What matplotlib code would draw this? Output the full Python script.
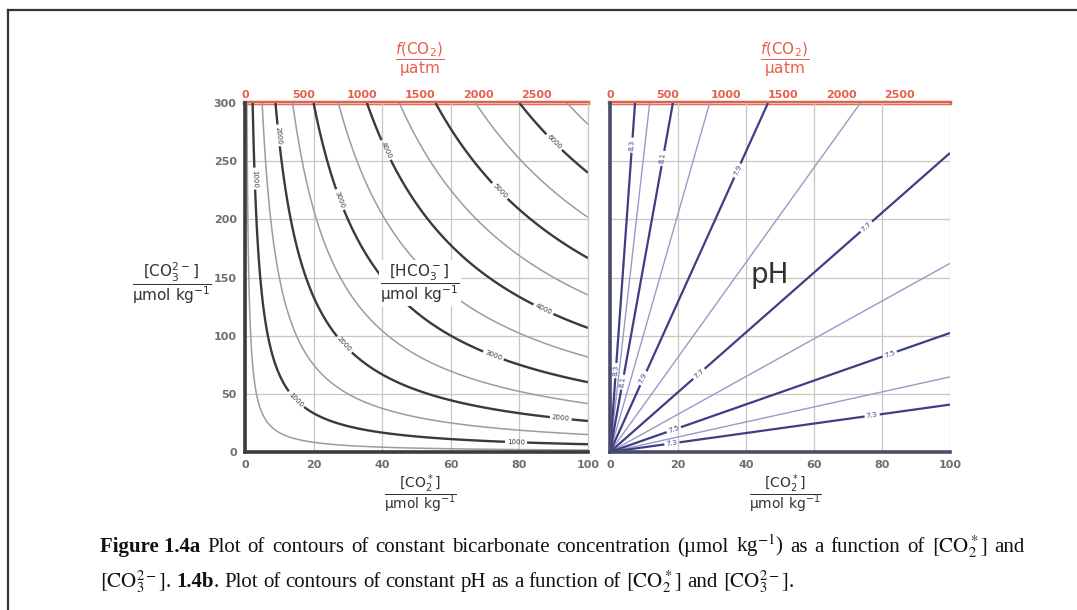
import numpy as np
import matplotlib.pyplot as plt
from matplotlib.lines import Line2D

# axis data
co2_ticks = [0, 20, 40, 60, 80, 100]
co3_ticks = [0, 50, 100, 150, 200, 250, 300]
fco2_ticks = [0, 500, 1000, 1500, 2000, 2500]
K0 = 0.034          # umol/kg per uatm

# left panel: [HCO3-] contours, [HCO3-]^2 = K_ratio * [CO2*] * [CO3--]
K_ratio = 1500.0
hco3_dark = [1000, 2000, 3000, 4000, 5000, 6000]
hco3_light = [500, 1500, 2500, 3500, 4500, 5500, 6500]
hco3_label_pos = [(2.9, 235), (15.2, 46), (79, 7.7),
                  (9.3, 272), (27.7, 89), (92, 27.5),
                  (28.6, 218), (72.3, 82),
                  (41.4, 260), (86.9, 122),
                  (73.8, 223), (90, 266)]

# right panel: pH lines, pH = 0.5*(log10([CO3--]/[CO2*]) + pK1 + pK2)
pK_sum = 14.99
ph_dark = [7.3, 7.5, 7.7, 7.9, 8.1, 8.3]
ph_light = [7.4, 7.6, 7.8, 8.0, 8.2]
ph_label_pos = [(5.3, 264), (1.7, 70),
                (14.4, 253), (3.8, 60),
                (38.2, 241), (10.9, 62),
                (75.9, 192), (26.5, 66),
                (82.4, 83), (18.8, 19),
                (77, 33.5), (18.2, 7.5)]

W, H = 1077, 610
fig = plt.figure(figsize=(W / 100, H / 100), dpi=100)
plt.rcParams['mathtext.fontset'] = 'dejavusans'

RED = '#e5604a'
GRID = '#cfc4bf'
TICK = '#6e6e6e'


def px_axes(x0, x1, y_top, y_bot):
    return fig.add_axes([x0 / W, 1 - y_bot / H, (x1 - x0) / W, (y_bot - y_top) / H])


def style(ax, spine_col, show_y):
    ax.set_xlim(0, 100)
    ax.set_ylim(0, 300)
    ax.set_xticks(co2_ticks)
    ax.set_yticks(co3_ticks)
    ax.grid(True, color=GRID, lw=0.9)
    ax.set_axisbelow(True)
    ax.tick_params(length=0, labelsize=8, labelcolor=TICK, pad=6)
    for lab in ax.get_xticklabels() + ax.get_yticklabels():
        lab.set_fontweight('bold')
    if not show_y:
        ax.set_yticklabels([])
    ax.spines['top'].set_visible(False)
    ax.spines['left'].set_color(spine_col)
    ax.spines['left'].set_linewidth(2.6)
    ax.spines['bottom'].set_color(spine_col)
    ax.spines['bottom'].set_linewidth(2.6)
    ax.spines['right'].set_color(GRID)
    ax.spines['right'].set_linewidth(0.9)
    top = ax.secondary_xaxis('top', functions=(lambda c: c / K0, lambda f: f * K0))
    top.set_xticks(fco2_ticks)
    top.tick_params(length=0, labelsize=8, labelcolor=RED, pad=2)
    for lab in top.get_xticklabels():
        lab.set_fontweight('bold')
    top.spines['top'].set_color(RED)
    top.spines['top'].set_linewidth(3.2)


x = np.linspace(0.01, 100, 700)
y = np.linspace(0.01, 300, 700)
X, Y = np.meshgrid(x, y)

# ---- left panel
axL = px_axes(245, 588, 103, 452)
style(axL, '#3c3c3c', True)
hco3 = np.sqrt(K_ratio * X * Y)
axL.contour(X, Y, hco3, levels=hco3_light, colors='#9c9c9c', linewidths=1.1)
csL = axL.contour(X, Y, hco3, levels=hco3_dark, colors='#3a3a3a', linewidths=1.7)
axL.clabel(csL, fmt='%d', fontsize=5, manual=hco3_label_pos, inline_spacing=2)
axL.text(51, 145, r'$\dfrac{[\mathrm{HCO_3^-}]}{\mathrm{µmol\ kg^{-1}}}$', fontsize=11,
         color='#333333', ha='center', va='center',
         bbox=dict(facecolor='white', edgecolor='none', pad=1))

# ---- right panel
axR = px_axes(610, 950, 103, 452)
style(axR, '#4a4a6a', False)
axR.spines['right'].set_visible(False)
ph = 0.5 * (np.log10(Y / X) + pK_sum)
axR.contour(X, Y, ph, levels=ph_light, colors='#9a9ac6', linewidths=1.0)
csR = axR.contour(X, Y, ph, levels=ph_dark, colors='#3e3e86', linewidths=1.6)
axR.clabel(csR, fmt='%.1f', fontsize=5, manual=ph_label_pos, inline_spacing=2)
axR.text(47, 152, 'pH', fontsize=20, color='#333333', ha='center', va='center')

# ---- axis titles (fractions)
frac_co2 = r'$\dfrac{[\mathrm{CO_2^*}]}{\mathrm{µmol\ kg^{-1}}}$'
frac_f = r'$\dfrac{f(\mathrm{CO_2})}{\mathrm{µatm}}$'
for cx in (420, 785):
    fig.text(cx / W, 1 - 494 / H, frac_co2, fontsize=10, color='#333333', ha='center', va='center')
    fig.text(cx / W, 1 - 60 / H, frac_f, fontsize=11, color=RED, ha='center', va='center')
fig.text(172 / W, 1 - 283 / H, r'$\dfrac{[\mathrm{CO_3^{2-}}]}{\mathrm{µmol\ kg^{-1}}}$',
         fontsize=11, color='#333333', ha='center', va='center')

# ---- page frame (left and top edges)
fig.add_artist(Line2D([8 / W, 8 / W], [0, 1 - 10 / H], transform=fig.transFigure, color='#333333', lw=1.6))
fig.add_artist(Line2D([8 / W, 1], [1 - 10 / H, 1 - 10 / H], transform=fig.transFigure, color='#333333', lw=1.6))

# ---- caption
CO2S = r'$[\mathrm{CO}_2^*]$'
CO3 = r'$[\mathrm{CO}_3^{2-}]$'
line1 = [('Figure 1.4a', True, True), ('Plot', False, True), ('of', False, True), ('contours', False, True),
         ('of', False, True), ('constant', False, True), ('bicarbonate', False, True),
         ('concentration', False, True), ('(µmol', False, True), (r'kg$^{-1}$)', False, True),
         ('as', False, True), ('a', False, True), ('function', False, True), ('of', False, True),
         (CO2S, False, True), ('and', False, False)]
line2 = [(CO3, False, False), ('.', False, True), ('1.4b', True, False), ('.', False, True),
         ('Plot', False, True), ('of', False, True), ('contours', False, True), ('of', False, True),
         ('constant', False, True), ('pH', False, True), ('as', False, True), ('a', False, True),
         ('function', False, True), ('of', False, True), (CO2S, False, True), ('and', False, True),
         (CO3, False, False), ('.', False, False)]

renderer = fig.canvas.get_renderer()
CAP_FS = 15


def put_line(words, x0, ybase, width=None):
    items = []
    for txt, bold, sp in words:
        t = fig.text(0, 0, txt, fontsize=CAP_FS, family='Liberation Serif',
                     weight='bold' if bold else 'normal', math_fontfamily='stix',
                     va='baseline', color='#111111')
        items.append((t, t.get_window_extent(renderer).width, sp))
    space = CAP_FS * 100 / 72 * 0.25
    n_sp = sum(1 for it in items[:-1] if it[2])
    total = sum(it[1] for it in items)
    if width is not None and n_sp:
        space = (width - total) / n_sp
    xp = x0
    for t, w, sp in items:
        t.set_position((xp / W, 1 - ybase / H))
        xp += w + (space if sp else 0)


put_line(line1, 100, 552, width=925)
put_line(line2, 100, 587)

fig.savefig('out.png', dpi=100)
